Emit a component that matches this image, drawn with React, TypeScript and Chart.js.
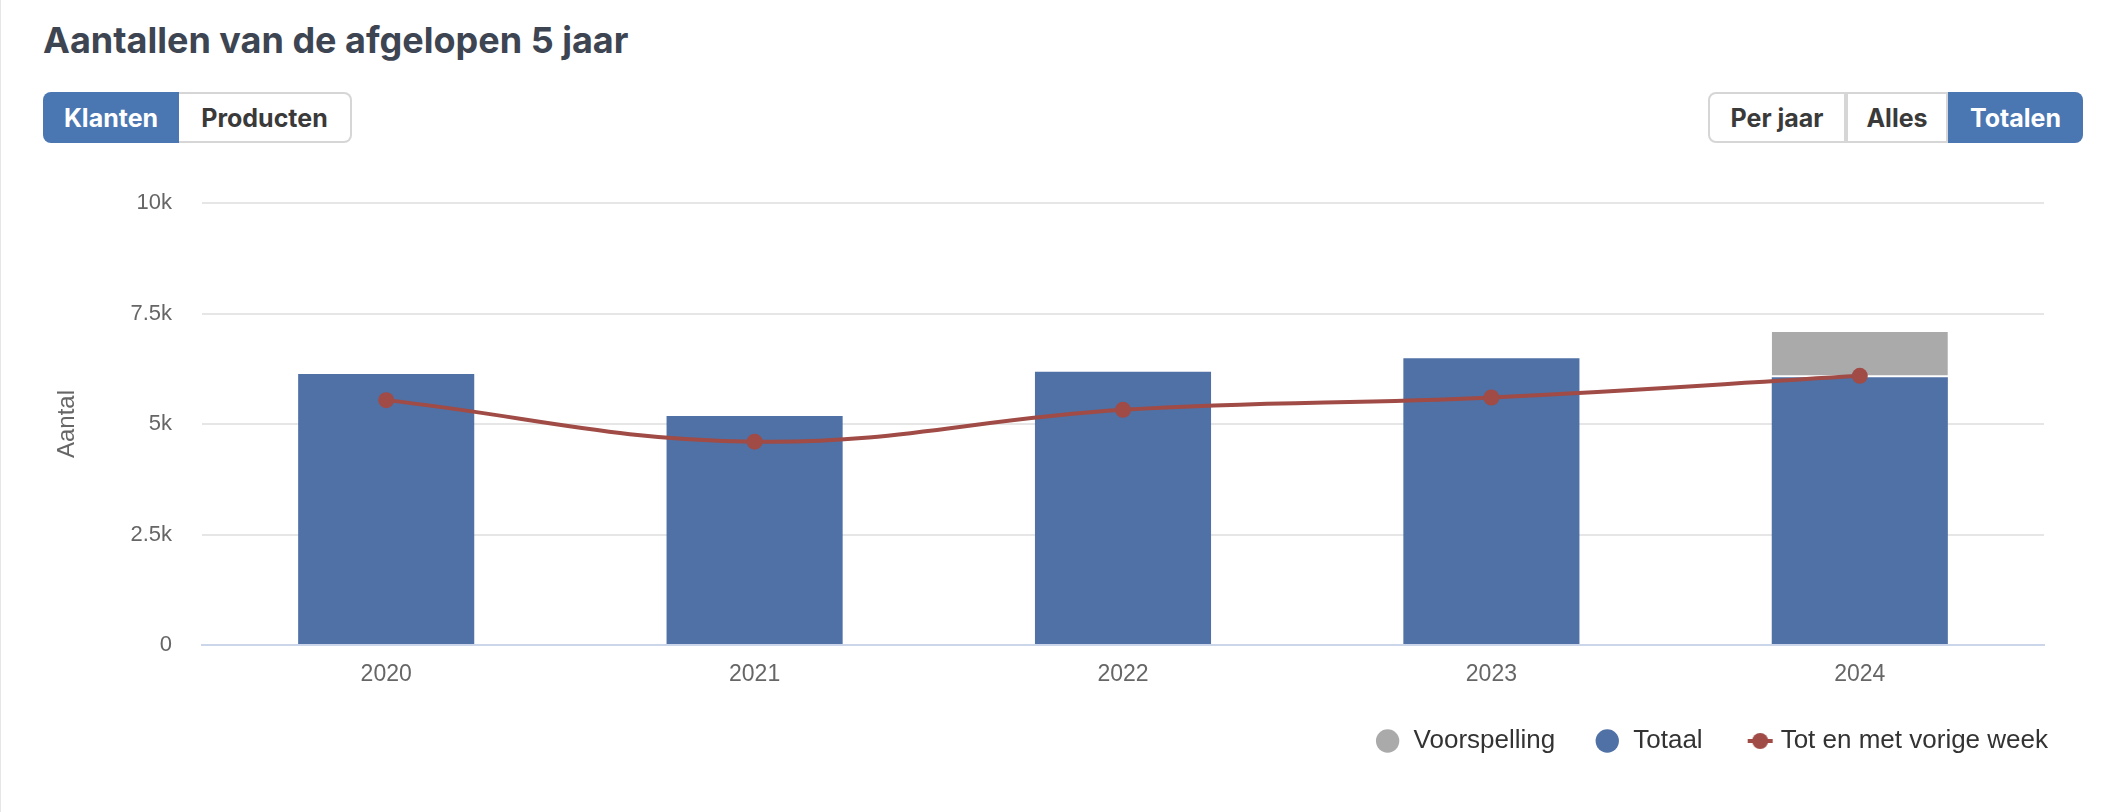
import React, { useEffect, useRef } from "react";
import { Chart, registerables } from "chart.js";

Chart.register(...registerables);

// ---- data ----
const categories = ["2020", "2021", "2022", "2023", "2024"];
const totaal = [6130, 5180, 6180, 6490, 6060];
const voorspelling = [null, null, null, null, 1020];
const totVorigeWeek = [5540, 4600, 5320, 5600, 6090];
const yTicks = [0, 2500, 5000, 7500, 10000];
const yTickLabels = ["0", "2.5k", "5k", "7.5k", "10k"];
const seriesNames = ["Totaal", "Voorspelling", "Tot en met vorige week"];
const legendOrder = [1, 0, 2];
const leftButtons = ["Klanten", "Producten"];
const rightButtons = ["Per jaar", "Alles", "Totalen"];
const titleText = "Aantallen van de afgelopen 5 jaar";
const yAxisTitle = "Aantal";

// ---- styles ----
const BLUE = "#4f71a5";
const GRAY = "#aaaaaa";
const RED = "#a04b46";
const BTN_BLUE = "#4a76b2";
const FONT = "'Liberation Sans', Arial, sans-serif";
const UI_FONT = "Inter, 'Liberation Sans', sans-serif";

function Button({ label, active, width, radius, borderLeft }: any) {
  return (
    <div
      style={{
        width,
        height: 51,
        boxSizing: "border-box",
        display: "flex",
        alignItems: "center",
        justifyContent: "center",
        background: active ? BTN_BLUE : "#fff",
        color: active ? "#fff" : "#3a3a3a",
        border: active ? "none" : "2px solid #d6d6d6",
        borderLeft: active ? "none" : borderLeft ? "2px solid #d6d6d6" : "none",
        borderRadius: radius,
        fontFamily: UI_FONT,
        fontWeight: 700,
        fontSize: 25,
      }}
    >
      {label}
    </div>
  );
}

export default function App() {
  const canvasRef = useRef<HTMLCanvasElement>(null);

  useEffect(() => {
    document.body.style.margin = "0";
    const canvas = canvasRef.current!;

    // legend symbol for the line series: short line with a dot
    const sym = document.createElement("canvas");
    sym.width = 48;
    sym.height = 18;
    const sctx = sym.getContext("2d")!;
    sctx.strokeStyle = RED;
    sctx.lineWidth = 4;
    sctx.beginPath();
    sctx.moveTo(17, 9);
    sctx.lineTo(42, 9);
    sctx.stroke();
    sctx.fillStyle = RED;
    sctx.beginPath();
    sctx.arc(29.5, 9, 8, 0, Math.PI * 2);
    sctx.fill();

    const colors = [BLUE, GRAY, RED];

    const chart = new Chart(canvas, {
      type: "bar",
      data: {
        labels: categories,
        datasets: [
          {
            type: "bar",
            label: seriesNames[0],
            data: totaal,
            backgroundColor: BLUE,
            borderWidth: 0,
            barPercentage: 0.478,
            categoryPercentage: 1,
            stack: "bars",
            order: 1,
            yAxisID: "y",
          },
          {
            type: "bar",
            label: seriesNames[1],
            data: voorspelling as any,
            backgroundColor: GRAY,
            borderColor: "#ffffff",
            borderWidth: { top: 0, left: 0, right: 0, bottom: 2 },
            borderSkipped: false,
            barPercentage: 0.478,
            categoryPercentage: 1,
            stack: "bars",
            order: 1,
            yAxisID: "y",
          },
          {
            type: "line",
            label: seriesNames[2],
            data: totVorigeWeek,
            borderColor: RED,
            backgroundColor: RED,
            borderWidth: 4,
            pointRadius: 8,
            pointBackgroundColor: RED,
            pointBorderWidth: 0,
            tension: 0.4,
            stack: "line",
            order: 0,
            yAxisID: "y",
          } as any,
        ],
      },
      options: {
        animation: false,
        responsive: false,
        devicePixelRatio: 1,
        layout: { padding: { top: 33, right: 27, bottom: 0, left: 0 } },
        plugins: {
          tooltip: { enabled: false },
          legend: {
            position: "bottom",
            align: "end",
            labels: {
              usePointStyle: true,
              boxWidth: 26,
              boxHeight: 16.5,
              padding: 39,
              color: "#333333",
              font: { size: 26, family: FONT },
              sort: (a: any, b: any) =>
                legendOrder.indexOf(a.datasetIndex) - legendOrder.indexOf(b.datasetIndex),
              generateLabels: (ch: any) => {
                const items = (Chart.defaults.plugins.legend.labels as any).generateLabels(ch);
                items.forEach((it: any) => {
                  const c = colors[it.datasetIndex];
                  it.fillStyle = c;
                  it.strokeStyle = c;
                  it.lineWidth = 0;
                  it.pointStyle = it.datasetIndex === 2 ? sym : "circle";
                });
                return items;
              },
            },
          },
        },
        scales: {
          x: {
            stacked: true,
            grid: { display: false, drawTicks: false },
            border: { color: "#ccd6eb", width: 2 },
            ticks: { color: "#666666", font: { size: 23, family: FONT }, padding: 16 },
            afterFit: (s: any) => {
              s.height = 44;
            },
          },
          y: {
            stacked: true,
            min: 0,
            max: 10000,
            afterBuildTicks: (s: any) => {
              s.ticks = yTicks.map((v) => ({ value: v }));
            },
            ticks: {
              color: "#666666",
              font: { size: 22, family: FONT },
              padding: 16,
              callback: (v: any) => yTickLabels[yTicks.indexOf(Number(v))],
            },
            grid: {
              color: (ctx: any) => (ctx.tick && ctx.tick.value === 0 ? "#ccd6eb" : "#e6e6e6"),
              lineWidth: 2,
              drawTicks: true,
              tickLength: 14,
              tickColor: "rgba(0,0,0,0)",
            },
            border: { display: false },
            title: {
              display: true,
              text: yAxisTitle,
              color: "#666666",
              font: { size: 24, family: FONT },
              padding: { top: 53, bottom: 0 },
            },
            afterFit: (s: any) => {
              s.width = 202;
            },
          },
          y2: {
            type: "linear",
            position: "right",
            display: true,
            grid: { display: false, drawTicks: false },
            ticks: { display: false },
            border: { display: false },
            afterFit: (s: any) => {
              s.width = 43;
            },
          },
        },
      } as any,
    });

    return () => chart.destroy();
  }, []);

  return (
    <div
      style={{
        position: "relative",
        width: 2114,
        height: 812,
        background: "#fff",
        overflow: "hidden",
      }}
    >
      <div style={{ position: "absolute", left: 0, top: 0, width: 1, height: 812, background: "#e6e6e6" }} />
      <div
        style={{
          position: "absolute",
          left: 43,
          top: 19,
          fontFamily: UI_FONT,
          fontWeight: 700,
          fontSize: 36,
          lineHeight: "42px",
          color: "#3e4552",
          whiteSpace: "nowrap",
        }}
      >
        {titleText}
      </div>
      <div style={{ position: "absolute", left: 43, top: 92, display: "flex" }}>
        <Button label={leftButtons[0]} active width={136} radius="8px 0 0 8px" />
        <Button label={leftButtons[1]} width={173} radius="0 8px 8px 0" />
      </div>
      <div style={{ position: "absolute", left: 1708, top: 92, display: "flex" }}>
        <Button label={rightButtons[0]} width={138} radius="8px 0 0 8px" borderLeft />
        <Button label={rightButtons[1]} width={102} radius="0" borderLeft />
        <Button label={rightButtons[2]} active width={135} radius="0 8px 8px 0" />
      </div>
      <canvas
        ref={canvasRef}
        width={2114}
        height={594}
        style={{ position: "absolute", left: 0, top: 170, width: 2114, height: 594 }}
      />
    </div>
  );
}
